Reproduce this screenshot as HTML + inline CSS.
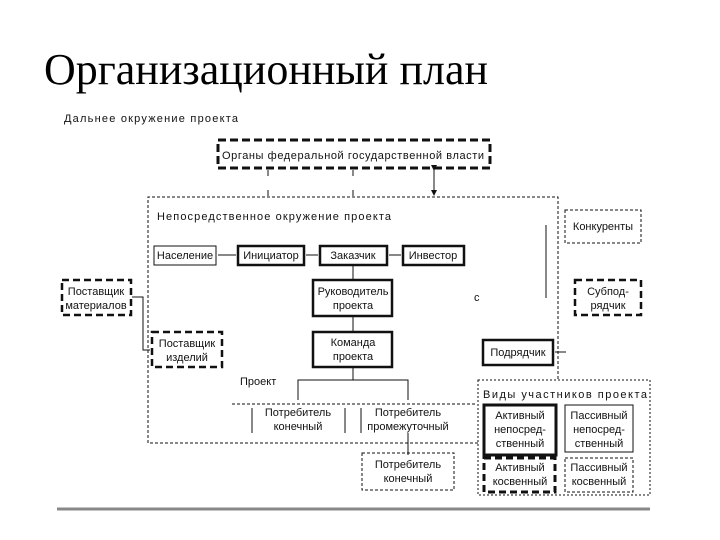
<!DOCTYPE html>
<html><head><meta charset="utf-8"><style>
html,body{margin:0;padding:0;background:#fff;}
svg{display:block;}
text{font-family:"Liberation Sans",sans-serif;font-size:11px;fill:#111;}
.t{font-family:"Liberation Serif",serif;font-size:44px;fill:#000;}
</style></head><body>
<svg width="720" height="540" viewBox="0 0 720 540" xmlns="http://www.w3.org/2000/svg">
<defs><marker id="a" markerWidth="6" markerHeight="6" refX="5" refY="3" orient="auto"><path d="M0,0L6,3L0,6z" fill="#111"/></marker></defs>
<text class="t" x="44" y="84" textLength="444" lengthAdjust="spacingAndGlyphs">Организационный план</text>
<g fill="none" stroke="#111">
<rect x="218" y="140" width="272" height="28" stroke-width="3" stroke-dasharray="8,4"/>
<path d="M478,443 L148,443 L148,197 L558,197 L558,380" stroke-width="1" stroke-dasharray="3,2"/>
<line x1="434" y1="170" x2="434" y2="195" marker-end="url(#a)" marker-start="url(#a)"/>
<line x1="268" y1="170" x2="268" y2="176"/><line x1="268" y1="190" x2="268" y2="196"/>
<line x1="353" y1="170" x2="353" y2="176"/><line x1="353" y1="190" x2="353" y2="196"/>
<rect x="154" y="246" width="62" height="19" stroke-width="1"/>
<rect x="238" y="246" width="66" height="19" stroke-width="2.5"/>
<rect x="320" y="246" width="67" height="19" stroke-width="2.5"/>
<rect x="403" y="246" width="61" height="19" stroke-width="2.5"/>
<line x1="218" y1="255" x2="236" y2="255"/><line x1="306" y1="255" x2="318" y2="255"/><line x1="389" y1="255" x2="401" y2="255"/>
<rect x="313" y="280" width="79" height="36" stroke-width="2.5"/>
<rect x="313" y="332" width="79" height="35" stroke-width="2.5"/>
<line x1="353" y1="266" x2="353" y2="279"/><line x1="353" y1="317" x2="353" y2="331"/>
<rect x="62" y="280" width="69" height="35" stroke-width="2.5" stroke-dasharray="7,4"/>
<rect x="152" y="332" width="70" height="35" stroke-width="2.5" stroke-dasharray="7,4"/>
<polyline points="132,297 143,297 143,350 150,350"/>
<rect x="565" y="210" width="76" height="33" stroke-width="1" stroke-dasharray="3,2"/>
<line x1="546" y1="225" x2="546" y2="298"/>
<rect x="575" y="280" width="66" height="35" stroke-width="2.5" stroke-dasharray="7,4"/>
<rect x="483" y="340" width="70" height="25" stroke-width="2.5"/>
<line x1="566" y1="352" x2="555" y2="352"/>
<line x1="353" y1="368" x2="353" y2="380"/>
<polyline points="298,400 298,380 408,380 408,400"/>
<line x1="232" y1="404" x2="475" y2="404" stroke-dasharray="3,2"/>
<line x1="252" y1="408" x2="252" y2="433"/><line x1="345" y1="408" x2="345" y2="433"/><line x1="361" y1="408" x2="361" y2="433"/>
<line x1="408" y1="433" x2="408" y2="455"/>
<rect x="362" y="453" width="92" height="37" stroke-width="1" stroke-dasharray="3,2"/>
<rect x="478" y="380" width="172" height="115" stroke-width="1" stroke-dasharray="2,2"/>
<rect x="484" y="405" width="72" height="50" stroke-width="3"/>
<rect x="565" y="405" width="68" height="47" stroke-width="1"/>
<rect x="484" y="458" width="71" height="34" stroke-width="3" stroke-dasharray="7,4"/>
<rect x="565" y="458" width="68" height="34" stroke-width="1" stroke-dasharray="3,2"/>
</g>
<line x1="57" y1="509" x2="650" y2="509" stroke="#888" stroke-width="3"/>
<text x="64" y="122" font-size="12.5" textLength="174">Дальнее окружение проекта</text>
<text x="222" y="159" font-size="12" textLength="262">Органы федеральной государственной власти</text>
<text x="157" y="220" font-size="12" textLength="234">Непосредственное окружение проекта</text>
<text x="185" y="259" text-anchor="middle" font-size="9.5">Население</text>
<text x="271" y="259" text-anchor="middle">Инициатор</text>
<text x="353" y="259" text-anchor="middle">Заказчик</text>
<text x="433" y="259" text-anchor="middle">Инвестор</text>
<text x="353" y="295" text-anchor="middle">Руководитель</text>
<text x="353" y="309" text-anchor="middle">проекта</text>
<text x="353" y="346" text-anchor="middle">Команда</text>
<text x="353" y="360" text-anchor="middle">проекта</text>
<text x="96" y="295" text-anchor="middle">Поставщик</text>
<text x="96" y="309" text-anchor="middle" font-size="10">материалов</text>
<text x="187" y="347" text-anchor="middle">Поставщик</text>
<text x="187" y="361" text-anchor="middle">изделий</text>
<text x="603" y="230" text-anchor="middle">Конкуренты</text>
<text x="608" y="295" text-anchor="middle">Субпод-</text>
<text x="608" y="309" text-anchor="middle">рядчик</text>
<text x="518" y="356" text-anchor="middle">Подрядчик</text>
<text x="240" y="385" font-size="12">Проект</text>
<text x="298" y="416" text-anchor="middle">Потребитель</text>
<text x="298" y="430" text-anchor="middle">конечный</text>
<text x="408" y="416" text-anchor="middle">Потребитель</text>
<text x="408" y="430" text-anchor="middle">промежуточный</text>
<text x="408" y="468" text-anchor="middle">Потребитель</text>
<text x="408" y="482" text-anchor="middle">конечный</text>
<text x="483" y="398" font-size="12" textLength="164">Виды участников проекта</text>
<text x="520" y="419" text-anchor="middle">Активный</text>
<text x="520" y="433" text-anchor="middle">непосред-</text>
<text x="520" y="447" text-anchor="middle">ственный</text>
<text x="599" y="419" text-anchor="middle">Пассивный</text>
<text x="599" y="433" text-anchor="middle">непосред-</text>
<text x="599" y="447" text-anchor="middle">ственный</text>
<text x="520" y="471" text-anchor="middle">Активный</text>
<text x="520" y="485" text-anchor="middle">косвенный</text>
<text x="599" y="471" text-anchor="middle">Пассивный</text>
<text x="599" y="485" text-anchor="middle">косвенный</text>
<text x="474" y="301">c</text>
</svg>
</body></html>
